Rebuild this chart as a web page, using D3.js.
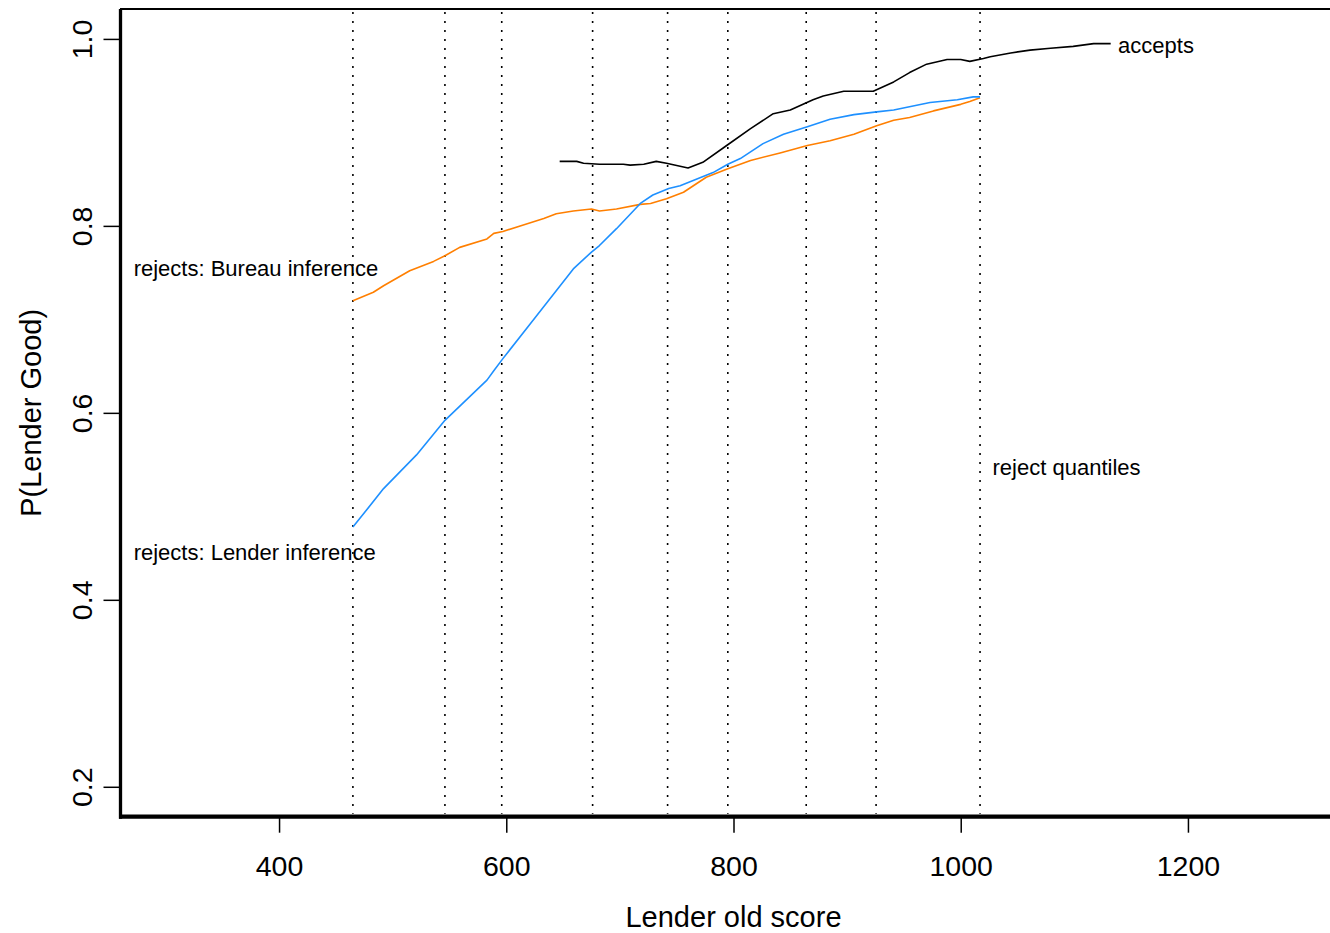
<!DOCTYPE html>
<html lang="en">
<head>
<meta charset="UTF-8">
<title>P(Lender Good) by Lender old score</title>
<script src="https://d3js.org/d3.v7.min.js"></script>
<style>
  body { margin: 0; background: #fff; }
  svg text { font-family: "Liberation Sans", Arial, Helvetica, sans-serif; fill: #000; }
</style>
</head>
<body>
<div id="chart"></div>
<script>
// Data: x = Lender old score, y = P(Lender Good)
var acceptsX = [647, 662, 668, 682, 703, 709, 721, 732, 741, 760, 773, 794, 815, 835, 850, 870,
                879, 897, 923, 941, 955, 970, 988, 1000, 1008, 1020, 1026, 1044, 1061, 1079, 1099, 1117, 1132];
var acceptsY = [0.869, 0.869, 0.867, 0.866, 0.866, 0.865, 0.866, 0.869, 0.867, 0.862, 0.868, 0.886, 0.904, 0.920, 0.924, 0.935,
                0.939, 0.944, 0.944, 0.954, 0.964, 0.973, 0.978, 0.978, 0.976, 0.979, 0.981, 0.985, 0.988, 0.990, 0.992, 0.995, 0.995];

var bureauX = [465, 483, 492, 515, 536, 546, 559, 583, 589, 597, 615, 633, 644, 659, 675, 682, 697, 718,
               727, 741, 756, 776, 795, 815, 841, 865, 885, 906, 926, 941, 955, 976, 1000, 1008, 1017];
var bureauY = [0.720, 0.729, 0.736, 0.752, 0.762, 0.768, 0.777, 0.786, 0.792, 0.794, 0.801, 0.808, 0.813, 0.816, 0.818, 0.816, 0.818, 0.823,
               0.824, 0.829, 0.836, 0.852, 0.861, 0.870, 0.878, 0.886, 0.891, 0.898, 0.907, 0.913, 0.916, 0.923, 0.930, 0.933, 0.937];

var lenderX = [465, 477, 492, 521, 546, 583, 589, 597, 621, 659, 675, 682, 697, 718, 729, 743, 753, 782,
               795, 806, 826, 844, 865, 885, 906, 926, 941, 973, 997, 1011, 1017];
var lenderY = [0.478, 0.496, 0.519, 0.555, 0.592, 0.635, 0.645, 0.658, 0.695, 0.754, 0.772, 0.779, 0.797, 0.824, 0.833, 0.840, 0.843, 0.857,
               0.866, 0.872, 0.888, 0.898, 0.906, 0.914, 0.919, 0.922, 0.924, 0.932, 0.935, 0.938, 0.938];

// reject quantiles (dotted verticals)
var quantiles = [465, 546, 596, 676, 742, 795, 864, 925.5, 1017];

var xTicks = [400, 600, 800, 1000, 1200];
var yTicks = [0.2, 0.4, 0.6, 0.8, 1.0];

// text labels in data units (left-aligned, baseline)
var labelText = ["accepts", "rejects: Bureau inference", "rejects: Lender inference", "reject quantiles"];
var labelX = [1138.5, 272, 272, 1028];
var labelY = [0.985, 0.746, 0.443, 0.533];

var W = 1330, H = 933;
var plot = { left: 120, right: 1347, top: 9, bottom: 816.7 };

var svg = d3.select("#chart")
    .append("svg")
    .attr("width", W)
    .attr("height", H);

var x = d3.scaleLinear().domain([260, 1340]).range([plot.left, plot.right]);
var y = d3.scaleLinear().domain([0.168, 1.032]).range([plot.bottom, plot.top]);

// dotted reject quantile lines
svg.append("g")
    .selectAll("line")
    .data(quantiles)
    .enter()
    .append("line")
    .attr("x1", function(d) { return x(d); })
    .attr("x2", function(d) { return x(d); })
    .attr("y1", plot.top + 3)
    .attr("y2", plot.bottom - 3)
    .attr("stroke", "#000")
    .attr("stroke-width", 1.6)
    .attr("stroke-dasharray", "2,7");

// curves
var line = d3.line()
    .x(function(d) { return x(d[0]); })
    .y(function(d) { return y(d[1]); });

var series = [
    { xs: bureauX, ys: bureauY, color: "#FF7F00" },
    { xs: lenderX, ys: lenderY, color: "#1E90FF" },
    { xs: acceptsX, ys: acceptsY, color: "#000000" }
];

series.forEach(function(s) {
    svg.append("path")
        .datum(d3.zip(s.xs, s.ys))
        .attr("fill", "none")
        .attr("stroke", s.color)
        .attr("stroke-width", 1.6)
        .attr("stroke-linejoin", "round")
        .attr("d", line);
});

// labels
svg.append("g")
    .selectAll("text")
    .data(d3.range(labelText.length))
    .enter()
    .append("text")
    .attr("x", function(i) { return x(labelX[i]); })
    .attr("y", function(i) { return y(labelY[i]); })
    .style("font-size", "22px")
    .text(function(i) { return labelText[i]; });

// box: thin top, thick left and bottom
svg.append("line")
    .attr("x1", plot.left).attr("x2", plot.right)
    .attr("y1", plot.top).attr("y2", plot.top)
    .attr("stroke", "#000").attr("stroke-width", 2);

// X axis
var xAxis = svg.append("g")
    .attr("transform", "translate(0," + plot.bottom + ")")
    .call(d3.axisBottom(x).tickValues(xTicks).tickSize(16).tickPadding(23).tickSizeOuter(0)
        .tickFormat(function(d) { return d; }));
xAxis.select(".domain").remove();
xAxis.selectAll(".tick line").attr("stroke-width", 1.5);
xAxis.selectAll("text")
    .style("font-size", "28.5px")
    .style("font-family", "'Liberation Sans', Arial, sans-serif");

// Y axis, labels rotated like base R
var yAxis = svg.append("g")
    .attr("transform", "translate(" + (plot.left + 0.5) + ",0)")
    .call(d3.axisLeft(y).tickValues(yTicks).tickSize(17).tickSizeOuter(0)
        .tickFormat(d3.format(".1f")));
yAxis.select(".domain").remove();
yAxis.selectAll(".tick line").attr("stroke-width", 1.5);
yAxis.selectAll("text")
    .attr("x", 0)
    .attr("dy", 0)
    .attr("text-anchor", "middle")
    .attr("transform", "translate(-28.5,0) rotate(-90)")
    .style("font-size", "28.5px")
    .style("font-family", "'Liberation Sans', Arial, sans-serif");

svg.append("line")
    .attr("x1", plot.left + 0.5).attr("x2", plot.left + 0.5)
    .attr("y1", plot.top).attr("y2", plot.bottom + 2)
    .attr("stroke", "#000").attr("stroke-width", 3.3);

svg.append("line")
    .attr("x1", plot.left - 1).attr("x2", plot.right)
    .attr("y1", plot.bottom).attr("y2", plot.bottom)
    .attr("stroke", "#000").attr("stroke-width", 4.2);

// axis titles
svg.append("text")
    .attr("x", (plot.left + plot.right) / 2)
    .attr("y", 926.5)
    .attr("text-anchor", "middle")
    .style("font-size", "29px")
    .text("Lender old score");

svg.append("text")
    .attr("transform", "translate(41," + ((plot.top + plot.bottom) / 2) + ") rotate(-90)")
    .attr("text-anchor", "middle")
    .style("font-size", "29px")
    .text("P(Lender Good)");
</script>
</body>
</html>
